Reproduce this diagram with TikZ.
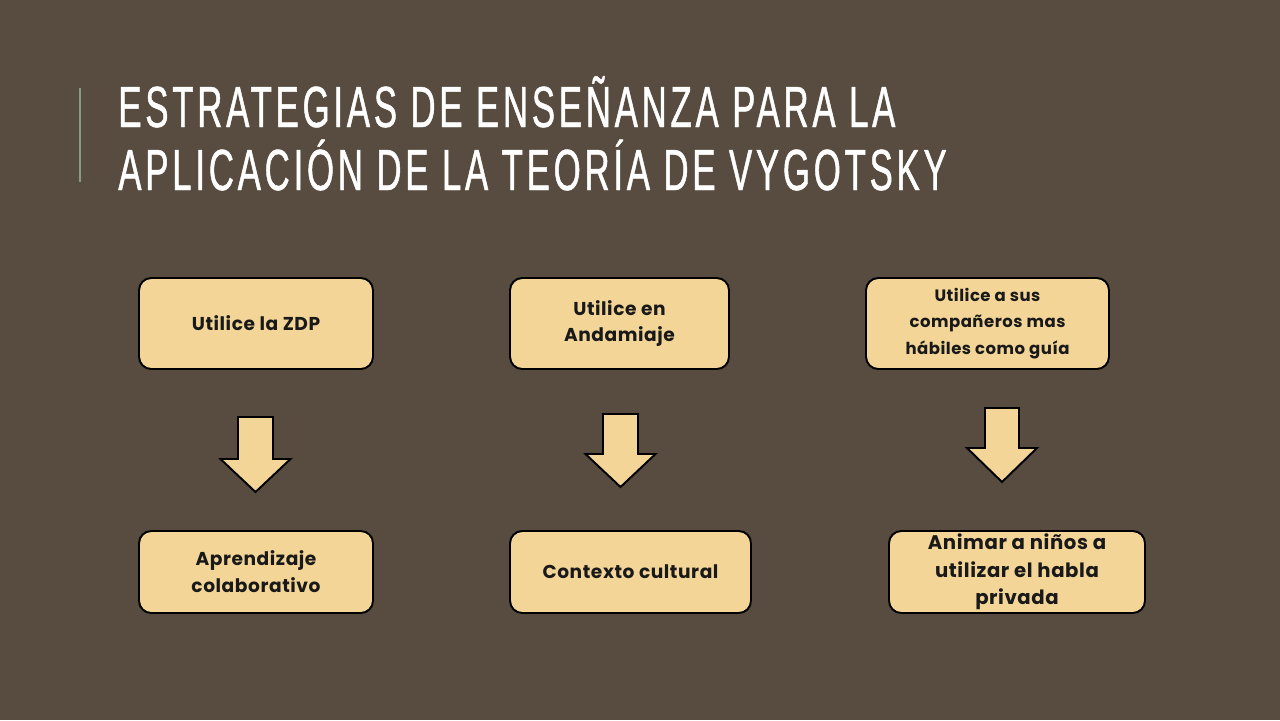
\documentclass[tikz,border=0pt]{standalone}
\usepackage{fontspec}
\usetikzlibrary{calc}
\setmainfont[LetterSpace=3]{Poppins}
\newfontfamily\titlefont[FakeStretch=0.6,LetterSpace=6.5,FakeBold=0.8]{Liberation Sans}
\definecolor{fondo}{HTML}{574C3F}
\definecolor{caja}{HTML}{F2D597}
\definecolor{raya}{HTML}{8E9886}

\tikzset{
	caja/.style={draw=black,fill=caja,line width=1.1pt,rounded corners=7pt,
		align=center,font=\fontsize{10.6}{15.3}\selectfont\bfseries,text=black!90,inner sep=0pt},
	flecha/.style={draw=black,fill=caja,line width=1.1pt,line join=miter}
}
% flecha hacia abajo: punto de arriba, ancho del tronco, ancho de la punta, largo del tronco, largo total
\newcommand{\flechaabajo}[5]{%
	\draw[flecha] ($(#1)+(-#2/2,0)$) -- ($(#1)+(#2/2,0)$) -- ($(#1)+(#2/2,#4)$) -- ($(#1)+(#3/2,#4)$)
	-- ($(#1)+(0,#5)$) -- ($(#1)+(-#3/2,#4)$) -- ($(#1)+(-#2/2,#4)$) -- cycle;}

\begin{document}
\begin{tikzpicture}[x=0.02cm,y=-0.02cm]
	\fill[fondo] (0,0) rectangle (1280,720);
	\useasboundingbox (0,0) rectangle (1280,720);
	\draw[raya,line width=0.8pt] (80,88) -- (80,182);
	
	% titulo
	\node[anchor=base west,text=white,font=\titlefont\fontsize{33}{33}\selectfont,inner sep=0pt] (titulo1) at (118,127) {ESTRATEGIAS DE ENSEÑANZA PARA LA};
	\node[anchor=base west,text=white,font=\titlefont\fontsize{33}{33}\selectfont,inner sep=0pt] (titulo2) at (118,190) {APLICACIÓN DE LA TEORÍA DE VYGOTSKY};
	
	% fila de arriba
	\node[caja,minimum width=234*0.02cm,minimum height=91*0.02cm] (zdp) at (256,323.5) {Utilice la ZDP};
	\node[caja,minimum width=219*0.02cm,minimum height=91*0.02cm] (andamiaje) at (619.5,323.5) {Utilice en\\Andamiaje};
	\node[caja,minimum width=243*0.02cm,minimum height=91*0.02cm,font=\fontsize{9.4}{15}\selectfont\bfseries] (companeros) at (987.5,323.5) {Utilice a sus\\compañeros mas\\hábiles como guía};
	
	% fila de abajo
	\node[caja,minimum width=234*0.02cm,minimum height=82*0.02cm] (colaborativo) at (256,572) {Aprendizaje\\colaborativo};
	\node[caja,minimum width=241*0.02cm,minimum height=82*0.02cm] (cultural) at (630.5,572) {Contexto cultural};
	\node[caja,minimum width=256*0.02cm,minimum height=82*0.02cm,font=\fontsize{11.2}{15.6}\selectfont\bfseries] (habla) at (1017,572) {Animar a niños a\\utilizar el habla\\privada};
	
	% flechas
	\coordinate (f1) at (255.5,417);
	\coordinate (f2) at (620.5,414);
	\coordinate (f3) at (1002,408);
	\flechaabajo{f1}{35}{70}{42}{75}
	\flechaabajo{f2}{35}{70}{40}{73}
	\flechaabajo{f3}{34}{70}{40}{74}
\end{tikzpicture}
\end{document}
